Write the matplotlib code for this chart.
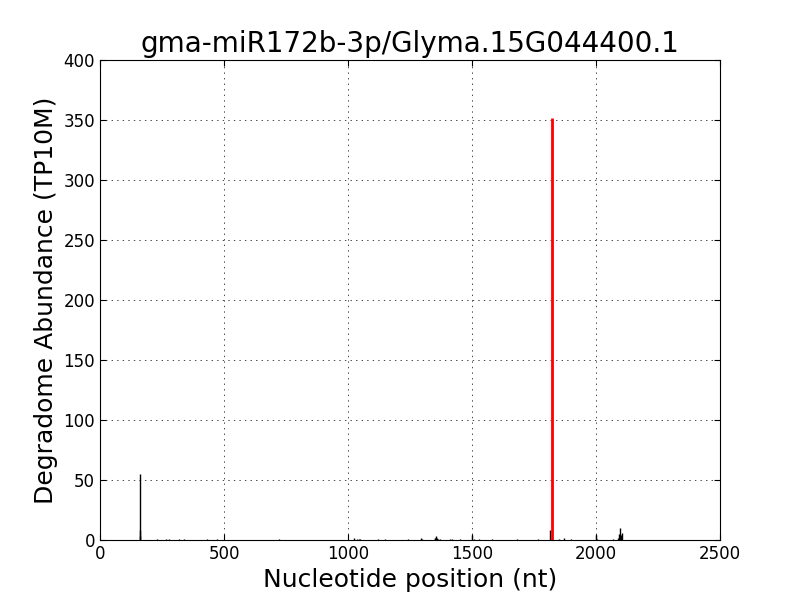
import matplotlib
matplotlib.use("Agg")
import matplotlib.pyplot as plt

# degradome peaks (position nt, abundance TP10M)
positions = [160, 161, 163, 230, 265, 280, 320, 340, 430, 470, 720,
             1025, 1035, 1045, 1050, 1120, 1150, 1240, 1295, 1300,
             1350, 1352, 1355, 1358, 1362, 1370, 1410, 1420, 1450,
             1500, 1510, 1530, 1580, 1680, 1765, 1815, 1850, 1870,
             1900, 2000, 2005, 2070, 2090, 2093, 2097, 2100, 2105]
abundance = [3, 55, 8, 0.5, 0.5, 0.5, 0.5, 0.5, 0.5, 0.5, 0.5,
             2, 1, 0.5, 0.5, 0.5, 0.5, 0.5, 1.5, 1,
             1.5, 2, 3, 2, 1, 1, 0.5, 0.5, 0.5,
             4, 1, 0.5, 0.5, 0.5, 0.5, 8, 0.5, 1.5,
             0.5, 4, 1, 1, 2, 5, 10, 4, 6]
target_pos = [1823]
target_val = [352]

fig = plt.figure(figsize=(8, 6), dpi=100, facecolor="white")
ax = fig.add_axes([0.125, 0.1, 0.775, 0.8])

ax.vlines(positions, 0, abundance, colors="black", linewidth=1)
ax.vlines(target_pos, 0, target_val, colors="red", linewidth=2)

ax.set_xlim(0, 2500)
ax.set_ylim(0, 400)
ax.set_xticks(range(0, 2501, 500))
ax.set_yticks(range(0, 401, 50))
ax.tick_params(direction="in", top=True, right=True, labelsize=12, length=4)
# classic-style dotted grid: 1pt dot, 3pt gap
ax.grid(True, color="black", linewidth=0.5, dashes=(2, 6))

ax.set_title("gma-miR172b-3p/Glyma.15G044400.1", fontsize=20)
ax.set_xlabel("Nucleotide position (nt)", fontsize=18)
ax.set_ylabel("Degradome Abundance (TP10M)", fontsize=18)

plt.savefig("out.png", dpi=100, facecolor="white")
